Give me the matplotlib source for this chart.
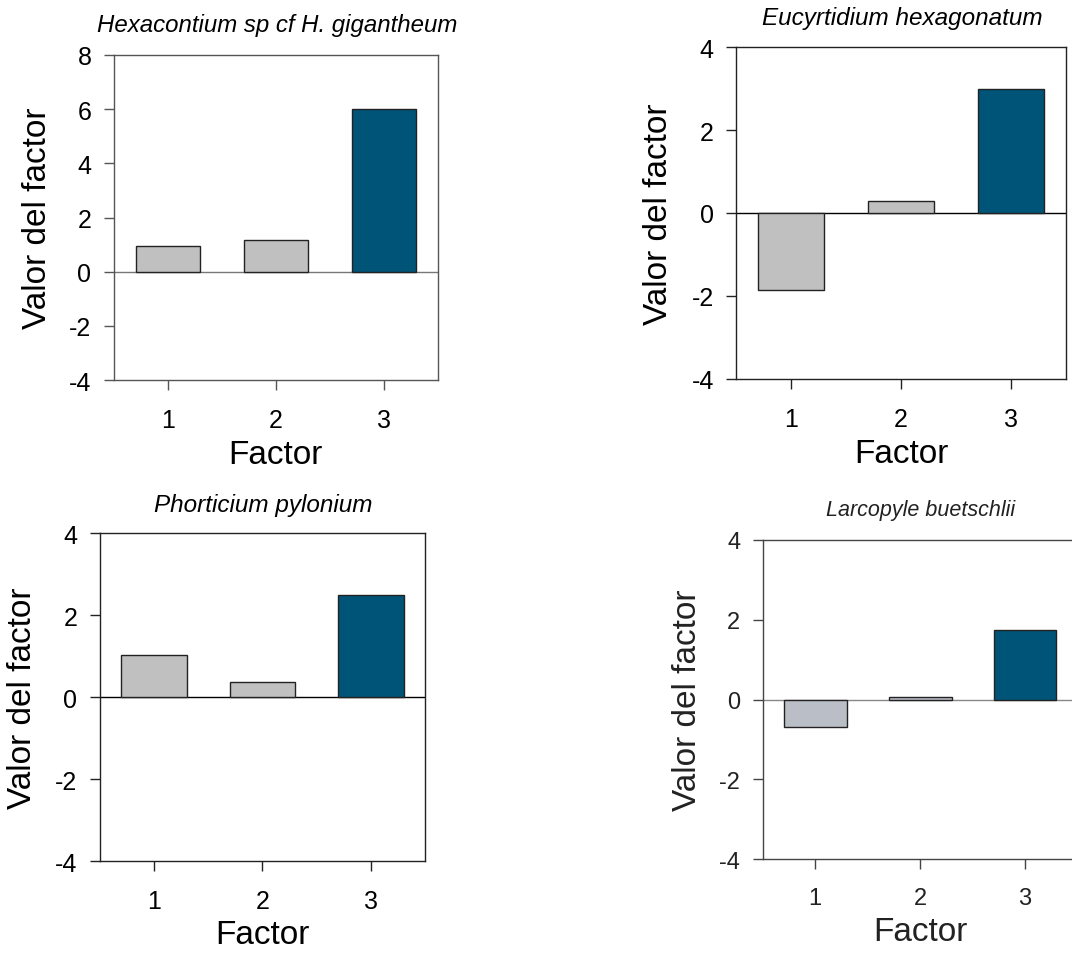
import matplotlib
matplotlib.use("Agg")
import matplotlib.pyplot as plt

plt.rcParams['font.family'] = ['Liberation Sans', 'DejaVu Sans']
plt.rcParams['axes.unicode_minus'] = False

# Datos
factores = [1, 2, 3]
hexacontium = [0.93, 1.17, 6.0]
eucyrtidium = [-1.86, 0.30, 3.0]
phorticium = [1.04, 0.37, 2.5]
larcopyle = [-0.69, 0.06, 1.75]

titulos = ['Hexacontium sp cf H. gigantheum', 'Eucyrtidium hexagonatum',
           'Phorticium pylonium', 'Larcopyle buetschlii']
yticks_1 = [-4, -2, 0, 2, 4, 6, 8]
yticks_rest = [-4, -2, 0, 2, 4]

azul = '#005478'
gris = '#c0c0c0'

fig = plt.figure(figsize=(10.72, 9.54), dpi=100)

# posiciones de los paneles (fraccion de la figura)
paneles = [
    dict(pos=[0.1063, 0.6006, 0.3022, 0.3407], datos=hexacontium, ylim=(-4, 8), yt=yticks_1,
         title_y=1.074, ylab_x=-0.236, xlab_y=-0.228, spine='#555555', zero='#777777',
         grey=gris, txt='black', tsize=17.3, ysize=18, xsize=18),
    dict(pos=[0.6869, 0.6020, 0.3073, 0.3474], datos=eucyrtidium, ylim=(-4, 4), yt=yticks_rest,
         title_y=1.070, ylab_x=-0.235, xlab_y=-0.227, spine='#222222', zero='black',
         grey=gris, txt='black', tsize=17.5, ysize=18, xsize=18),
    dict(pos=[0.0930, 0.0961, 0.3037, 0.3441], datos=phorticium, ylim=(-4, 4), yt=yticks_rest,
         title_y=1.068, ylab_x=-0.237, xlab_y=-0.224, spine='#222222', zero='black',
         grey=gris, txt='black', tsize=17.5, ysize=18, xsize=18),
    dict(pos=[0.7115, 0.0982, 0.2936, 0.3350], datos=larcopyle, ylim=(-4, 4), yt=yticks_rest,
         title_y=1.077, ylab_x=-0.239, xlab_y=-0.227, spine='#444444', zero='#888888',
         grey='#babec6', txt='#222222', tsize=15.5, ysize=17, xsize=17),
]

for p, titulo in zip(paneles, titulos):
    ax = fig.add_axes(p['pos'])
    colores = [p['grey'], p['grey'], azul]
    ax.bar(factores, p['datos'], width=0.6, color=colores, edgecolor='#222222', linewidth=1, zorder=3)
    ax.axhline(0, color=p['zero'], linewidth=1, zorder=2)
    ax.set_xlim(0.5, 3.5)
    ax.set_ylim(p['ylim'])
    ax.set_xticks(factores)
    ax.set_yticks(p['yt'])
    ax.tick_params(axis='both', direction='out', length=7.2, width=1, colors=p['spine'])
    ax.tick_params(axis='y', pad=9, labelsize=p['ysize'], labelcolor=p['txt'])
    ax.tick_params(axis='x', pad=13, labelsize=p['xsize'], labelcolor=p['txt'])
    for s in ax.spines.values():
        s.set_color(p['spine'])
        s.set_linewidth(1)
    ax.set_ylabel('Valor del factor', fontsize=24, color=p['txt'], va='center')
    ax.yaxis.set_label_coords(p['ylab_x'], 0.5)
    ax.set_xlabel('Factor', fontsize=24, color=p['txt'], va='center')
    ax.xaxis.set_label_coords(0.5, p['xlab_y'])
    ax.text(0.503, p['title_y'], titulo, transform=ax.transAxes, ha='center', va='baseline',
            fontsize=p['tsize'], style='italic', color=p['txt'])

fig.savefig('out.png', dpi=100)
